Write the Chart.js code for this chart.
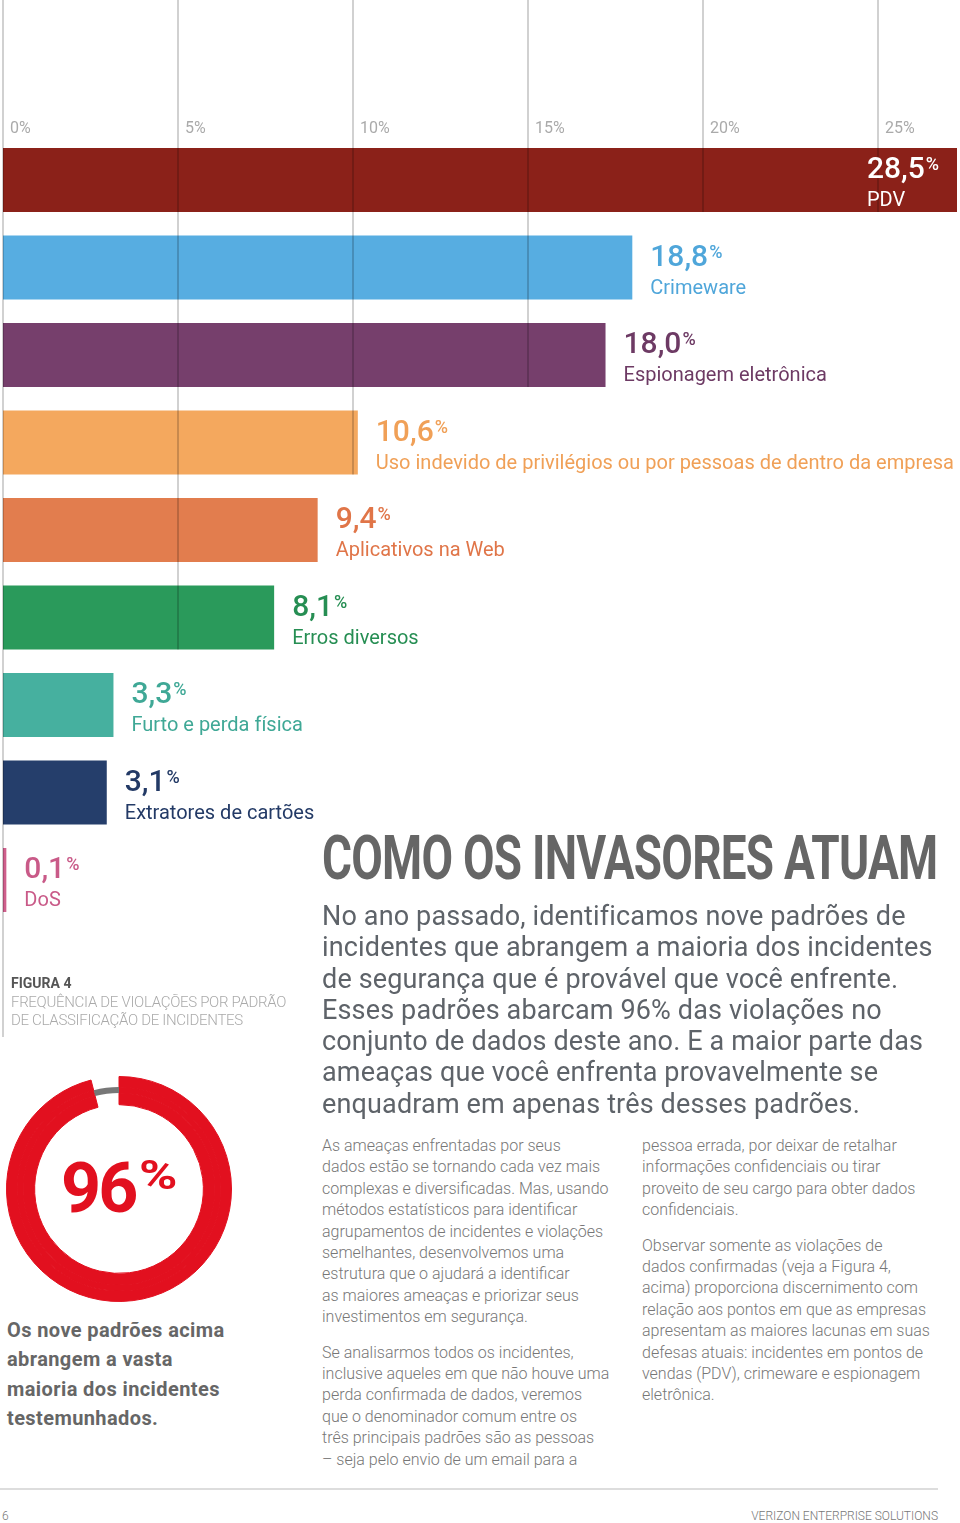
<!DOCTYPE html>
<html lang="pt-BR">
<head>
<meta charset="utf-8">
<title>Como os invasores atuam</title>
<script src="https://cdn.jsdelivr.net/npm/chart.js@4.4.1/dist/chart.umd.min.js"></script>
<style>
  html, body { margin: 0; padding: 0; background: #fff; }
  body { width: 960px; height: 1523px; position: relative; overflow: hidden; font-family: Roboto, "Open Sans", sans-serif; }
  .abs { position: absolute; white-space: nowrap; }
  #bars { position: absolute; left: 0; top: 0; }
  #donut { position: absolute; left: 6px; top: 1076px; }
  #heading { left: 322px; top: 827px; font-size: 62px; line-height: 62px; font-weight: 700; color: #666; transform-origin: left top; letter-spacing: -1px; }
  #intro { left: 322px; top: 901px; font-size: 27px; line-height: 31.3px; color: #5e6369; letter-spacing: 0.15px; }
  .col { top: 1135px; font-size: 16px; line-height: 21.4px; font-weight: 300; color: #777; }
  .col p { margin: 0 0 14px 0; }
  #col1 { left: 322px; }
  #col2 { left: 642px; }
  #fig { left: 11px; top: 976px; font-size: 14px; line-height: 14px; font-weight: 700; color: #555; }
  .figsub { left: 11px; font-size: 15px; line-height: 15px; font-weight: 300; color: #aaa; letter-spacing: -0.3px; }
  #pct96 { left: 61px; top: 1153px; font-size: 70px; line-height: 70px; font-weight: 700; color: #e2101f; letter-spacing: -3px; }
  #pct96sign { left: 139px; top: 1156px; font-size: 40px; line-height: 40px; font-weight: 700; color: #e2101f; transform: scaleX(1.3); transform-origin: left top; }
  #note { left: 7px; top: 1316px; font-size: 20px; line-height: 29.4px; font-weight: 700; color: #666; letter-spacing: 0.4px; }
  #rule { position: absolute; left: 0; top: 1488px; width: 938px; height: 2px; background: #ddd; }
  .foot { top: 1510px; font-size: 12px; line-height: 12px; font-weight: 300; color: #777; }
</style>
</head>
<body>
<canvas id="bars" width="960" height="1037"></canvas>
<canvas id="donut" width="226" height="226"></canvas>

<div class="abs" id="heading">COMO OS INVASORES ATUAM</div>
<div class="abs" id="intro">No ano passado, identificamos nove padrões de<br>incidentes que abrangem a maioria dos incidentes<br>de segurança que é provável que você enfrente.<br>Esses padrões abarcam 96% das violações no<br>conjunto de dados deste ano. E a maior parte das<br>ameaças que você enfrenta provavelmente se<br>enquadram em apenas três desses padrões.</div>

<div class="abs col" id="col1">
<p>As ameaças enfrentadas por seus<br>dados estão se tornando cada vez mais<br>complexas e diversificadas. Mas, usando<br>métodos estatísticos para identificar<br>agrupamentos de incidentes e violações<br>semelhantes, desenvolvemos uma<br>estrutura que o ajudará a identificar<br>as maiores ameaças e priorizar seus<br>investimentos em segurança.</p>
<p>Se analisarmos todos os incidentes,<br>inclusive aqueles em que não houve uma<br>perda confirmada de dados, veremos<br>que o denominador comum entre os<br>três principais padrões são as pessoas<br>– seja pelo envio de um email para a</p>
</div>
<div class="abs col" id="col2">
<p>pessoa errada, por deixar de retalhar<br>informações confidenciais ou tirar<br>proveito de seu cargo para obter dados<br>confidenciais.</p>
<p>Observar somente as violações de<br>dados confirmadas (veja a Figura 4,<br>acima) proporciona discernimento com<br>relação aos pontos em que as empresas<br>apresentam as maiores lacunas em suas<br>defesas atuais: incidentes em pontos de<br>vendas (PDV), crimeware e espionagem<br>eletrônica.</p>
</div>

<div class="abs" id="fig">FIGURA 4</div>
<div class="abs figsub" style="top:995px">FREQUÊNCIA DE VIOLAÇÕES POR PADRÃO</div>
<div class="abs figsub" style="top:1013px">DE CLASSIFICAÇÃO DE INCIDENTES</div>

<div class="abs" id="pct96">96</div>
<div class="abs" id="pct96sign">%</div>
<div class="abs" id="note">Os nove padrões acima<br>abrangem a vasta<br>maioria dos incidentes<br>testemunhados.</div>

<div id="rule"></div>
<div class="abs foot" style="left:2px">6</div>
<div class="abs foot" style="right:22px">VERIZON ENTERPRISE SOLUTIONS</div>

<script>
// Figura 4 – frequência de violações por padrão (%)
const categories = ['PDV', 'Crimeware', 'Espionagem eletrônica',
  'Uso indevido de privilégios ou por pessoas de dentro da empresa',
  'Aplicativos na Web', 'Erros diversos', 'Furto e perda física',
  'Extratores de cartões', 'DoS'];
const shares = [28.5, 18.8, 18.0, 10.6, 9.4, 8.1, 3.3, 3.1, 0.1];
const barColors = ['#8b2119', '#57ade1', '#763f6c', '#f4a85e', '#e27d4e',
  '#2a9a5b', '#46b09f', '#253e6b', '#cf5f8c'];
const labelColors = ['#ffffff', '#4fa6da', '#6d3a64', '#f0a057', '#e07548',
  '#268e53', '#3fa896', '#233a66', '#c95a88'];
const gridStep = 5;

// 96% dos incidentes cobertos pelos nove padrões
const coverage = [96, 4];
const coverageLabels = ['Nove padrões', 'Outros'];

const fmt = v => v.toLocaleString('pt-BR', { minimumFractionDigits: 1, maximumFractionDigits: 1 });

// grid lines run from the top down to the last bar that reaches them
const gridAndLabels = {
  id: 'gridAndLabels',
  afterDatasetsDraw(chart) {
    const ctx = chart.ctx;
    const area = chart.chartArea;
    const grid = chart.scales.x2;
    const bars = chart.getDatasetMeta(0).data;

    ctx.save();
    grid.ticks.forEach(t => {
      const gx = Math.round(grid.getPixelForValue(t.value));
      let bottom = chart.height;
      if (t.value > 0) {
        bottom = 0;
        bars.forEach(b => {
          const p = b.getProps(['x', 'y', 'height'], true);
          if (p.x >= gx) bottom = Math.max(bottom, p.y + p.height / 2);
        });
      }
      ctx.strokeStyle = 'rgba(0,0,0,0.18)';
      ctx.lineWidth = 2;
      ctx.beginPath();
      ctx.moveTo(gx, 0);
      ctx.lineTo(gx, bottom);
      ctx.stroke();

      ctx.fillStyle = '#aaa';
      ctx.font = '400 16px Roboto';
      ctx.textBaseline = 'alphabetic';
      ctx.textAlign = 'left';
      ctx.fillText(t.label, gx + 7, area.top - 3);
    });

    bars.forEach((b, i) => {
      const p = b.getProps(['x', 'y', 'height'], true);
      const top = p.y - p.height / 2;
      const inside = p.x >= area.right - 1;
      const lx = inside ? area.right - 90 : p.x + 18;
      const num = fmt(shares[i]);
      ctx.fillStyle = inside ? '#fff' : labelColors[i];
      ctx.font = '500 30px Roboto';
      ctx.fillText(num, lx, top + 30);
      const w = ctx.measureText(num).width;
      ctx.font = '500 18px Roboto';
      ctx.fillText('%', lx + w + 1, top + 22);
      ctx.font = '400 20px Roboto';
      ctx.fillText(categories[i], lx, top + 58);
    });
    ctx.restore();
  }
};

new Chart(document.getElementById('bars'), {
  type: 'bar',
  data: {
    labels: categories,
    datasets: [{
      data: shares,
      backgroundColor: barColors,
      borderWidth: 0,
      barPercentage: 64 / 87.5,
      categoryPercentage: 1
    }]
  },
  options: {
    indexAxis: 'y',
    responsive: false,
    animation: false,
    layout: { padding: { left: 3, right: 3, top: 136.25, bottom: 113.25 } },
    scales: {
      x: { display: false, min: 0, max: 28.5 },
      x2: {
        type: 'linear', display: false, position: 'top', min: 0, max: 27.25,
        ticks: { stepSize: gridStep, includeBounds: false, callback: v => v + '%' }
      },
      y: { display: false }
    },
    plugins: { legend: { display: false }, tooltip: { enabled: false } }
  },
  plugins: [gridAndLabels]
});

const red = '#e2101f';
const ringBase = { data: coverage, borderWidth: [1, 0], borderColor: [red, 'rgba(0,0,0,0)'] };
new Chart(document.getElementById('donut'), {
  type: 'doughnut',
  data: {
    labels: coverageLabels,
    datasets: [
      Object.assign({}, ringBase, { backgroundColor: [red, 'rgba(0,0,0,0)'], weight: 10.5 }),
      Object.assign({}, ringBase, { backgroundColor: [red, '#777'], weight: 6 }),
      Object.assign({}, ringBase, { backgroundColor: [red, 'rgba(0,0,0,0)'], weight: 11.5 })
    ]
  },
  options: {
    responsive: false,
    animation: false,
    cutout: '75%',
    plugins: { legend: { display: false }, tooltip: { enabled: false } }
  }
});

// squeeze the heading into the reference width
const h = document.getElementById('heading');
h.style.transform = 'scaleX(' + (615 / h.offsetWidth) + ')';
</script>
</body>
</html>
